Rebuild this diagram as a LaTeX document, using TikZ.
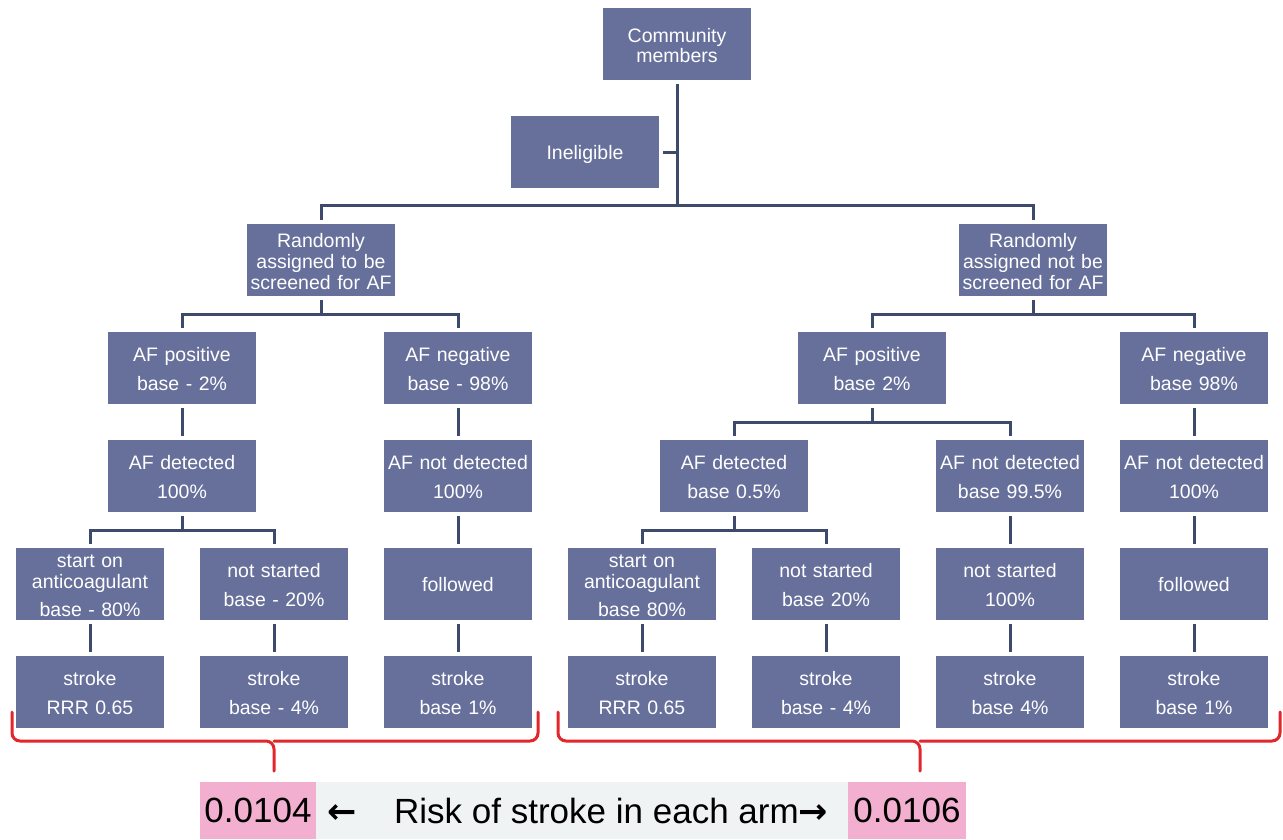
\documentclass[tikz,border=0pt]{standalone}
\usepackage{fontspec}
\setmainfont{Liberation Sans}
\newfontfamily\arrowfont{DejaVu Sans}
\definecolor{boxc}{HTML}{67709B}
\definecolor{linec}{HTML}{3E4A6C}
\definecolor{bred}{HTML}{E3262B}
\definecolor{pinkc}{HTML}{F3AFD0}
\definecolor{grayc}{HTML}{EFF3F4}
\begin{document}
\begin{tikzpicture}[x=1pt,y=-1pt,
  basebox/.style={rectangle, fill=boxc, text=white, minimum width=148pt, minimum height=72pt, inner sep=0pt, align=center, font=\fontsize{19.5}{21}\selectfont},
  box/.style={basebox, text width=148pt,
    execute at begin node={\rule{0pt}{21.5pt}}, execute at end node={\rule[-5pt]{0pt}{5pt}}},
  threebox/.style={basebox, text width=148pt,
    execute at begin node={\rule{0pt}{18pt}}, execute at end node={\rule[-3pt]{0pt}{3pt}}},
  onebox/.style={basebox, execute at begin node={\rule{0pt}{19pt}}, execute at end node={\rule[-5pt]{0pt}{5pt}}},
  conn/.style={draw=linec, line width=3pt},
  bracec/.style={draw=bred, line width=3pt, rounded corners=8pt, line cap=round},
  big/.style={font=\fontsize{35}{40}\selectfont, inner sep=0pt}]
\useasboundingbox (0,0) rectangle (1283,839);
\fill[white] (0,0) rectangle (1283,839);
% nodes
\node[box] (cm) at (677,44) {Community\\[-1pt]members};
\node[onebox] (inel) at (585,152) {Ineligible};
\node[box] (rs) at (321,260) {Randomly\\assigned to be\\screened for AF};
\node[box] (rn) at (1033,260) {Randomly\\assigned not be\\screened for AF};
\node[box] (lpos) at (182,368) {AF positive\\[8pt]base - 2\%};
\node[box] (lneg) at (458,368) {AF negative\\[8pt]base - 98\%};
\node[box] (ldet) at (182,476) {AF detected\\[8pt]100\%};
\node[box] (lnd) at (458,476) {AF not detected\\[8pt]100\%};
\node[threebox] (lsa) at (90,584) {start on\\anticoagulant\\[7pt]base - 80\%};
\node[box] (lns) at (274,584) {not started\\[8pt]base - 20\%};
\node[onebox] (lfo) at (458,584) {followed};
\node[box] (ls1) at (90,692) {stroke\\[8pt]RRR 0.65};
\node[box] (ls2) at (274,692) {stroke\\[8pt]base - 4\%};
\node[box] (ls3) at (458,692) {stroke\\[8pt]base 1\%};
\node[box] (rpos) at (872,368) {AF positive\\[8pt]base 2\%};
\node[box] (rneg) at (1194,368) {AF negative\\[8pt]base 98\%};
\node[box] (rdet) at (734,476) {AF detected\\[8pt]base 0.5\%};
\node[box] (rnd) at (1010,476) {AF not detected\\[8pt]base 99.5\%};
\node[box] (rnd2) at (1194,476) {AF not detected\\[8pt]100\%};
\node[threebox] (rsa) at (642,584) {start on\\anticoagulant\\[7pt]base 80\%};
\node[box] (rns) at (826,584) {not started\\[8pt]base 20\%};
\node[box] (rns2) at (1010,584) {not started\\[8pt]100\%};
\node[onebox] (rfo) at (1194,584) {followed};
\node[box] (rs1) at (642,692) {stroke\\[8pt]RRR 0.65};
\node[box] (rs2) at (826,692) {stroke\\[8pt]base - 4\%};
\node[box] (rs3) at (1010,692) {stroke\\[8pt]base 4\%};
\node[box] (rs4) at (1194,692) {stroke\\[8pt]base 1\%};
% connectors top
\coordinate (trunk) at (677,205);
\draw[conn] ([yshift=-4pt]cm.south) -- (trunk);
\draw[conn] ([xshift=4pt]inel.east) -- (inel.east -| trunk);
\draw[conn] ([yshift=4pt]rs.north) |- (trunk) -| ([yshift=4pt]rn.north);
% branches
\draw[conn] ([yshift=-4pt]rs.south) -- ([yshift=-18pt]rs.south);
\draw[conn] ([yshift=4pt]lpos.north) |- ([yshift=-18pt]rs.south) -| ([yshift=4pt]lneg.north);
\draw[conn] ([yshift=-4pt]rn.south) -- ([yshift=-18pt]rn.south);
\draw[conn] ([yshift=4pt]rpos.north) |- ([yshift=-18pt]rn.south) -| ([yshift=4pt]rneg.north);
\draw[conn] ([yshift=-4pt]ldet.south) -- ([yshift=-18pt]ldet.south);
\draw[conn] ([yshift=4pt]lsa.north) |- ([yshift=-18pt]ldet.south) -| ([yshift=4pt]lns.north);
\draw[conn] ([yshift=-4pt]rpos.south) -- ([yshift=-18pt]rpos.south);
\draw[conn] ([yshift=4pt]rdet.north) |- ([yshift=-18pt]rpos.south) -| ([yshift=4pt]rnd.north);
\draw[conn] ([yshift=-4pt]rdet.south) -- ([yshift=-18pt]rdet.south);
\draw[conn] ([yshift=4pt]rsa.north) |- ([yshift=-18pt]rdet.south) -| ([yshift=4pt]rns.north);
% straight links
\draw[conn] ([yshift=-4pt]lpos.south) -- ([yshift=4pt]ldet.north);
\draw[conn] ([yshift=-4pt]lneg.south) -- ([yshift=4pt]lnd.north);
\draw[conn] ([yshift=-4pt]lnd.south) -- ([yshift=4pt]lfo.north);
\draw[conn] ([yshift=-4pt]lsa.south) -- ([yshift=4pt]ls1.north);
\draw[conn] ([yshift=-4pt]lns.south) -- ([yshift=4pt]ls2.north);
\draw[conn] ([yshift=-4pt]lfo.south) -- ([yshift=4pt]ls3.north);
\draw[conn] ([yshift=-4pt]rneg.south) -- ([yshift=4pt]rnd2.north);
\draw[conn] ([yshift=-4pt]rnd.south) -- ([yshift=4pt]rns2.north);
\draw[conn] ([yshift=-4pt]rnd2.south) -- ([yshift=4pt]rfo.north);
\draw[conn] ([yshift=-4pt]rsa.south) -- ([yshift=4pt]rs1.north);
\draw[conn] ([yshift=-4pt]rns.south) -- ([yshift=4pt]rs2.north);
\draw[conn] ([yshift=-4pt]rns2.south) -- ([yshift=4pt]rs3.north);
\draw[conn] ([yshift=-4pt]rfo.south) -- ([yshift=4pt]rs4.north);
% braces
\draw[bracec] (12,712) |- (274,741) -- (274,771);
\draw[bracec] (538,712) |- (274,741);
\draw[bracec] (558,712) |- (920,741) -- (920,771);
\draw[bracec] (1280,712) |- (920,741);
% bottom bar
\fill[grayc] (316,782) rectangle (848,839);
\node[big, fill=pinkc, minimum width=116pt, minimum height=57pt] (v1) at (258,810.5) {0.0104};
\node[big, fill=pinkc, minimum width=118pt, minimum height=57pt] (v2) at (907,810.5) {0.0106};
\node[big, anchor=base] (la) at (342,823) {\arrowfont\bfseries ←};
\node[big, anchor=base west] (risk) at (394,823) {Risk of stroke in each arm{\arrowfont\bfseries →}};
\end{tikzpicture}
\end{document}
